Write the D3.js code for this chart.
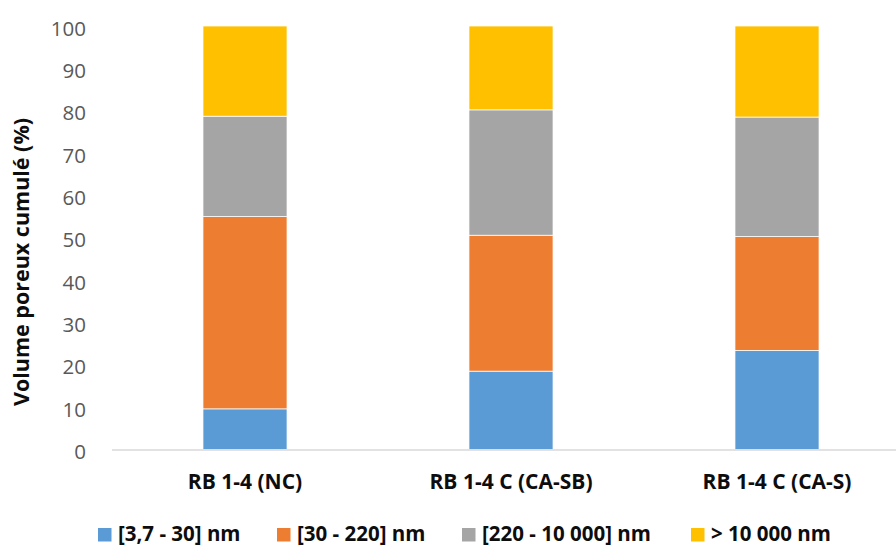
<!DOCTYPE html>
<html><head><meta charset="utf-8">
<script src="https://cdn.jsdelivr.net/npm/d3@7"></script>
<style>
html,body{margin:0;padding:0;background:#fff;}
svg{display:block;font-family:"Open Sans",sans-serif;}
</style></head>
<body>
<svg id="chart" width="896" height="545"></svg>
<script>
const categories = ["RB 1-4 (NC)", "RB 1-4 C (CA-SB)", "RB 1-4 C (CA-S)"];
const seriesNames = ["[3,7 - 30] nm", "[30 - 220] nm", "[220 - 10 000] nm", "> 10 000 nm"];
const seriesColors = ["#5B9BD5", "#ED7D31", "#A5A5A5", "#FFC000"];
const s1 = [9.6, 18.5, 23.4];
const s2 = [45.4, 32.1, 26.9];
const s3 = [23.7, 29.6, 28.2];
const s4 = [21.3, 19.8, 21.5];
const yTicks = [0,10,20,30,40,50,60,70,80,90,100];

const seriesValues = [s1, s2, s3, s4];
const rows = categories.map((c, i) => {
  const r = {cat: c};
  seriesNames.forEach((s, k) => r[s] = seriesValues[k][i]);
  return r;
});
const stacked = d3.stack().keys(seriesNames)(rows);

const svg = d3.select("#chart");
const x = d3.scaleBand().domain(categories).range([112, 910]).paddingInner(0.684).paddingOuter(0.342);
const y = d3.scaleLinear().domain([0, 100]).range([449.5, 26]);

// y tick labels
const yAxis = d3.axisLeft(y).tickValues(yTicks).tickSize(0).tickPadding(26);
const gy = svg.append("g").attr("transform", "translate(112,0)").call(yAxis);
gy.select(".domain").remove();
gy.selectAll("text").attr("fill", "#595959").style("font-size", "20.5px")
  .style("font-family", "'Open Sans',sans-serif").attr("dy", "0.44em");

// bars
svg.append("g").selectAll("g").data(stacked).join("g")
  .attr("fill", (d, i) => seriesColors[i])
  .selectAll("rect").data(d => d).join("rect")
  .attr("x", d => x(d.data.cat))
  .attr("width", x.bandwidth())
  .attr("y", d => y(d[1]))
  .attr("height", d => y(d[0]) - y(d[1]))
  .attr("stroke", "#fff").attr("stroke-width", 0.75);

// x axis
const xAxis = d3.axisBottom(x).tickSize(0).tickPadding(24);
const gx = svg.append("g").attr("transform", "translate(0,450)").call(xAxis);
gx.select(".domain").attr("stroke", "#D9D9D9").attr("stroke-width", 1.3).attr("d", "M112,0H896");
gx.selectAll("text").attr("fill", "#0d0d0d").style("font-size", "21px").style("font-weight", "bold")
  .style("font-family", "'Open Sans',sans-serif");

// y title
svg.append("text")
  .attr("transform", "translate(29,262) rotate(-90)")
  .attr("text-anchor", "middle")
  .attr("fill", "#0d0d0d")
  .style("font-size", "21.5px").style("font-weight", "bold")
  .text("Volume poreux cumulé (%)");

// legend
const legendX = [98, 277, 462, 691];
const lg = svg.append("g").selectAll("g").data(seriesNames).join("g")
  .attr("transform", (d, i) => `translate(${legendX[i]},528)`);
lg.append("rect").attr("width", 13.5).attr("height", 13.5).attr("fill", (d, i) => seriesColors[i]);
lg.append("text").attr("x", 20).attr("y", 12.5).attr("fill", "#0d0d0d")
  .style("font-size", "20.5px").style("font-weight", "bold").text(d => d);
</script>
</body></html>
